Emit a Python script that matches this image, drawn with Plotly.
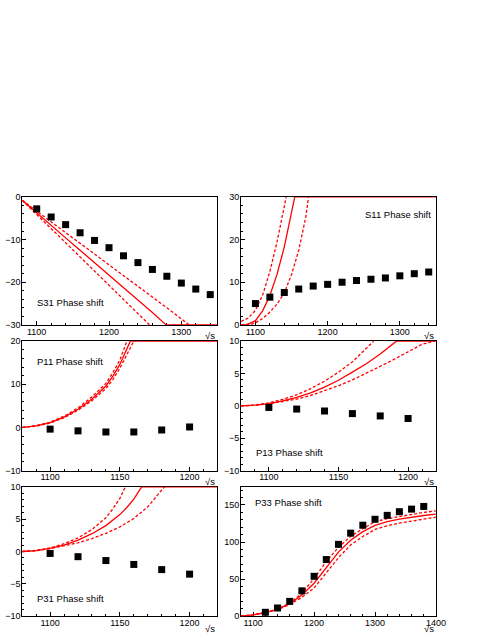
import plotly.graph_objects as go

W, H = 491, 635

# ------------------------------------------------------------------ data
# S31 panel
s31_x = [1100, 1120, 1140, 1160, 1180, 1200, 1220, 1240, 1260, 1280, 1300, 1320, 1340]
s31_y = [-2.8, -4.7, -6.5, -8.4, -10.2, -11.9, -13.8, -15.4, -17.0, -18.6, -20.2, -21.6, -22.9]
s31_fit_x = [1080, 1100, 1120, 1140, 1160, 1180, 1200, 1220, 1240, 1260, 1279, 1350]
s31_fit_y = [-0.8, -3.8, -6.7, -9.6, -12.5, -15.4, -18.3, -21.2, -24.1, -27.1, -30.0, -30.0]
s31_hi_x = [1080, 1100, 1120, 1140, 1160, 1180, 1200, 1220, 1240, 1260, 1280, 1300, 1311]
s31_hi_y = [-0.8, -3.3, -5.8, -8.3, -10.9, -13.4, -15.9, -18.4, -21.0, -23.5, -26.0, -28.6, -30.0]
s31_lo_x = [1080, 1100, 1120, 1140, 1160, 1180, 1200, 1220, 1240, 1256]
s31_lo_y = [-0.8, -4.1, -7.4, -10.8, -14.1, -17.4, -20.7, -24.0, -27.3, -30.0]

# S11 panel
s11_x = [1100, 1120, 1140, 1160, 1180, 1200, 1220, 1240, 1260, 1280, 1300, 1320, 1340]
s11_y = [5.0, 6.5, 7.6, 8.4, 9.1, 9.5, 10.0, 10.4, 10.7, 11.0, 11.5, 12.0, 12.4]
s11_fit_x = [1080, 1088, 1100, 1110, 1120, 1130, 1140, 1150, 1154.5, 1350]
s11_fit_y = [0.0, 0.0, 1.0, 3.3, 6.9, 11.9, 18.3, 26.0, 30.0, 30.0]
s11_hi_x = [1080, 1090, 1100, 1110, 1120, 1130, 1140, 1142.6]
s11_hi_y = [0.8, 1.6, 3.4, 7.0, 12.5, 19.5, 27.8, 30.0]
s11_lo_x = [1080, 1095, 1100, 1110, 1120, 1130, 1140, 1150, 1160, 1170, 1173.5]
s11_lo_y = [0.0, 0.2, 0.5, 1.5, 3.0, 4.9, 7.5, 11.8, 17.5, 25.5, 30.0]

# P11 panel
p11_x = [1100, 1120, 1140, 1160, 1180, 1200]
p11_y = [-0.4, -0.8, -1.06, -1.06, -0.6, 0.1]
p11_fit_x = [1080, 1090, 1100, 1110, 1120, 1130, 1140, 1145, 1150, 1155, 1157.5, 1220]
p11_fit_y = [0.0, 0.35, 1.1, 2.4, 4.2, 6.6, 9.6, 11.9, 14.6, 18.0, 20.0, 20.0]
p11_hi_x = [1080, 1090, 1100, 1110, 1120, 1130, 1140, 1145, 1150, 1155]
p11_hi_y = [0.0, 0.4, 1.2, 2.6, 4.5, 7.1, 10.2, 12.7, 15.6, 20.0]
p11_lo_x = [1080, 1090, 1100, 1110, 1120, 1130, 1140, 1145, 1150, 1155, 1160]
p11_lo_y = [0.0, 0.3, 1.0, 2.2, 4.0, 6.2, 9.0, 11.1, 13.7, 16.7, 20.0]

# P13 panel
p13_x = [1100, 1120, 1140, 1160, 1180, 1200]
p13_y = [-0.25, -0.5, -0.8, -1.2, -1.56, -1.96]
p13_fit_x = [1080, 1090, 1100, 1110, 1120, 1130, 1140, 1150, 1160, 1170, 1180, 1191.6, 1220]
p13_fit_y = [0.0, 0.1, 0.35, 0.75, 1.3, 2.0, 2.9, 3.95, 5.2, 6.5, 8.0, 10.0, 10.0]
p13_hi_x = [1080, 1090, 1100, 1110, 1120, 1130, 1140, 1150, 1160, 1170, 1175.3]
p13_hi_y = [0.0, 0.12, 0.45, 1.0, 1.7, 2.65, 3.8, 5.2, 6.8, 8.8, 10.0]
p13_lo_x = [1080, 1090, 1100, 1110, 1120, 1130, 1140, 1150, 1160, 1170, 1180, 1190, 1200, 1210, 1219]
p13_lo_y = [0.0, 0.08, 0.3, 0.65, 1.05, 1.6, 2.3, 3.1, 4.0, 5.0, 6.1, 7.2, 8.35, 9.5, 10.0]

# P31 panel
p31_x = [1100, 1120, 1140, 1160, 1180, 1200]
p31_y = [-0.3, -0.8, -1.4, -2.0, -2.8, -3.5]
p31_fit_x = [1080, 1090, 1100, 1110, 1120, 1130, 1140, 1150, 1155, 1160, 1165.6, 1220]
p31_fit_y = [0.0, 0.15, 0.5, 1.0, 1.75, 2.75, 4.0, 5.7, 6.8, 8.1, 10.0, 10.0]
p31_hi_x = [1080, 1090, 1100, 1110, 1120, 1130, 1140, 1145, 1150, 1153.9]
p31_hi_y = [0.0, 0.18, 0.55, 1.2, 2.1, 3.4, 5.2, 6.6, 8.2, 10.0]
p31_lo_x = [1080, 1090, 1100, 1110, 1120, 1130, 1140, 1150, 1160, 1170, 1181.9]
p31_lo_y = [0.0, 0.12, 0.45, 0.85, 1.35, 2.0, 2.8, 3.8, 5.1, 6.9, 10.0]

# P33 panel
p33_x = [1120, 1140, 1160, 1180, 1200, 1220, 1240, 1260, 1280, 1300, 1320, 1340, 1360, 1380]
p33_y = [5.3, 11.1, 20.0, 34.2, 53.8, 76.4, 96.9, 112.0, 122.7, 130.7, 136.0, 140.9, 144.4, 148.0]
p33_fit_x = [1080, 1100, 1120, 1140, 1160, 1180, 1200, 1220, 1240, 1260, 1280, 1300, 1320, 1340, 1360, 1380, 1400]
p33_fit_y = [0.0, 1.8, 4.9, 9.3, 16.9, 28.5, 44.5, 65.5, 86.5, 102.5, 114.0, 122.5, 127.5, 131.0, 133.7, 135.8, 137.6]
p33_hi_y = [0.0, 1.9, 5.1, 9.6, 17.6, 31.0, 51.0, 73.5, 93.0, 107.5, 118.0, 127.5, 131.5, 134.5, 137.5, 140.0, 142.0]
p33_lo_y = [0.0, 1.7, 4.7, 8.9, 15.8, 25.5, 38.0, 58.0, 79.0, 96.0, 107.5, 117.0, 122.0, 125.5, 128.5, 131.2, 133.6]

titles = ["S31 Phase shift", "S11 Phase shift", "P11 Phase shift",
          "P13 Phase shift", "P31 Phase shift", "P33 Phase shift"]
x_title = "\u221As"

# ------------------------------------------------------------------ layout helpers
def px_x(p):
    return p / W


def px_y(p):
    return 1 - p / H


col_dom = [[px_x(22.7), px_x(222.0)], [px_x(246.0), px_x(445.0)]]
row_dom = [[px_y(325.0), px_y(195.0)], [px_y(473.0), px_y(341.5)], [px_y(621.0), px_y(489.5)]]

panels = [
    dict(pts=(s31_x, s31_y), fit=(s31_fit_x, s31_fit_y), hi=(s31_hi_x, s31_hi_y), lo=(s31_lo_x, s31_lo_y),
         xr=[1080, 1350], xd=100, xm=20, yr=[-30, 0], yd=10, ym=2, row=0, col=0,
         title_pos=(36, 302)),
    dict(pts=(s11_x, s11_y), fit=(s11_fit_x, s11_fit_y), hi=(s11_hi_x, s11_hi_y), lo=(s11_lo_x, s11_lo_y),
         xr=[1080, 1350], xd=100, xm=20, yr=[0, 30], yd=10, ym=2, row=0, col=1,
         title_pos=(371, 213)),
    dict(pts=(p11_x, p11_y), fit=(p11_fit_x, p11_fit_y), hi=(p11_hi_x, p11_hi_y), lo=(p11_lo_x, p11_lo_y),
         xr=[1080, 1220], xd=50, xm=10, yr=[-10, 20], yd=10, ym=2, row=1, col=0,
         title_pos=(36, 362)),
    dict(pts=(p13_x, p13_y), fit=(p13_fit_x, p13_fit_y), hi=(p13_hi_x, p13_hi_y), lo=(p13_lo_x, p13_lo_y),
         xr=[1080, 1220], xd=50, xm=10, yr=[-10, 10], yd=5, ym=1, row=1, col=1,
         title_pos=(259, 455)),
    dict(pts=(p31_x, p31_y), fit=(p31_fit_x, p31_fit_y), hi=(p31_hi_x, p31_hi_y), lo=(p31_lo_x, p31_lo_y),
         xr=[1080, 1220], xd=50, xm=10, yr=[-10, 10], yd=5, ym=1, row=2, col=0,
         title_pos=(36, 603)),
    dict(pts=(p33_x, p33_y), fit=(p33_fit_x, p33_fit_y), hi=(p33_fit_x, p33_hi_y), lo=(p33_fit_x, p33_lo_y),
         xr=[1080, 1400], xd=100, xm=20, yr=[0, 174.5], yd=50, ym=10, row=2, col=1,
         title_pos=(258, 505)),
]

FONT = "Liberation Sans, Arial, Helvetica, sans-serif"
RED = "#ff0000"

fig = go.Figure()
annotations = []
layout_axes = {}

for i, p in enumerate(panels):
    n = "" if i == 0 else str(i + 1)
    xa, ya = "x" + n, "y" + n
    # fit band lines
    for key, dash in (("hi", "3px,2px"), ("lo", "3px,2px"), ("fit", "solid")):
        xs, ys = p[key]
        fig.add_trace(go.Scatter(x=xs, y=ys, mode="lines", xaxis=xa, yaxis=ya,
                                 line=dict(color=RED, width=1.3, dash=dash),
                                 showlegend=False, hoverinfo="skip"))
    # data points
    fig.add_trace(go.Scatter(x=p["pts"][0], y=p["pts"][1], mode="markers", xaxis=xa, yaxis=ya,
                             marker=dict(symbol="square", size=7, color="black"),
                             showlegend=False, cliponaxis=False))

    common = dict(showline=True, linecolor="black", linewidth=1, mirror=True,
                  ticks="inside", ticklen=4, tickwidth=1, tickcolor="black",
                  showgrid=False, zeroline=False, layer="below traces",
                  tickfont=dict(family=FONT, size=9, color="black"))
    layout_axes["xaxis" + n] = dict(common, domain=col_dom[p["col"]], range=p["xr"],
                                    anchor=ya, tick0=1000, dtick=p["xd"], ticklabelstandoff=-2,
                                    minor=dict(ticks="inside", ticklen=2, dtick=p["xm"], tick0=1000,
                                               tickcolor="black", showgrid=False))
    layout_axes["yaxis" + n] = dict(common, domain=row_dom[p["row"]], range=p["yr"],
                                    anchor=xa, tick0=0, dtick=p["yd"], ticklabelstandoff=-1,
                                    minor=dict(ticks="inside", ticklen=2, dtick=p["ym"], tick0=0,
                                               tickcolor="black", showgrid=False))
    # panel label
    tx, ty = p["title_pos"]
    annotations.append(dict(text=titles[i], x=px_x(tx), y=px_y(ty), xref="paper", yref="paper",
                            xanchor="left", yanchor="middle", showarrow=False,
                            font=dict(family=FONT, size=9.5, color="black")))
    # axis title sqrt(s) at right end below axis
    right_px = 222.0 if p["col"] == 0 else 445.0
    bottom_px = [325.0, 473.0, 621.0][p["row"]]
    offset = 12.5 if p["row"] == 2 else 11
    annotations.append(dict(text=x_title, x=px_x(right_px), y=px_y(bottom_px + offset), xref="paper", yref="paper",
                            xanchor="right", yanchor="middle", showarrow=False,
                            font=dict(family=FONT, size=9.5, color="black")))

fig.update_layout(width=W, height=H, margin=dict(l=0, r=0, t=0, b=0),
                  paper_bgcolor="white", plot_bgcolor="white",
                  annotations=annotations, **layout_axes)

fig.write_html("out.html", config={"displayModeBar": False},
               post_script="document.body.style.margin='0px';document.body.style.padding='0px';")
